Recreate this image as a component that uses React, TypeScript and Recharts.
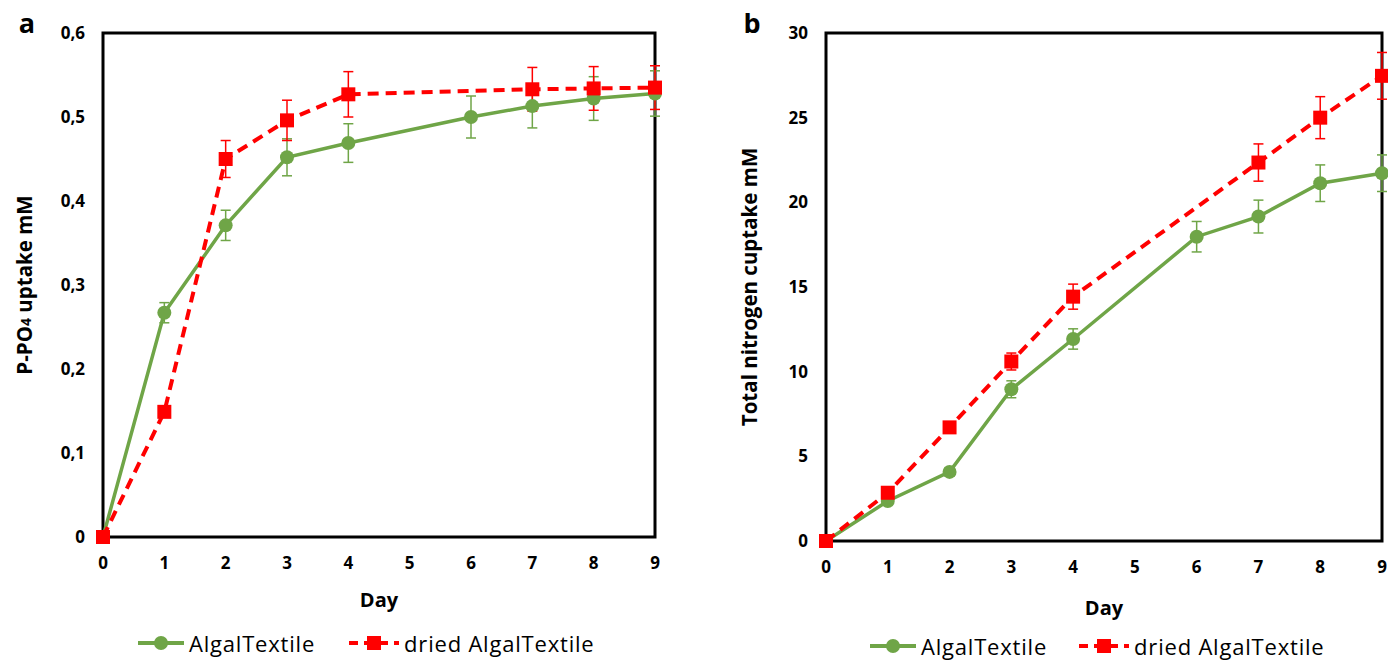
import { LineChart, Line, XAxis, YAxis, ErrorBar, ReferenceArea, Legend } from 'recharts';

// days sampled for each series (no dried sample on day 6, no sample at day 5)
const algalDays = [0, 1, 2, 3, 4, 6, 7, 8, 9];
const driedDays = [0, 1, 2, 3, 4, 7, 8, 9];
const dayTicks = [0, 1, 2, 3, 4, 5, 6, 7, 8, 9];

// panel a: P-PO4 uptake (mM)
const pAlgal = [0, 0.267, 0.371, 0.452, 0.469, 0.5, 0.513, 0.522, 0.528];
const pAlgalErr = [0, 0.012, 0.018, 0.022, 0.023, 0.025, 0.026, 0.026, 0.027];
const pDried = [0, 0.149, 0.45, 0.496, 0.527, 0.533, 0.534, 0.535];
const pDriedErr = [0, 0, 0.022, 0.024, 0.027, 0.026, 0.026, 0.026];
const pTicks = [0, 0.1, 0.2, 0.3, 0.4, 0.5, 0.6];

// panel b: total nitrogen uptake (mM)
const nAlgal = [0, 2.36, 4.08, 8.96, 11.93, 17.97, 19.16, 21.13, 21.72];
const nAlgalErr = [0, 0.2, 0.25, 0.5, 0.6, 0.9, 0.97, 1.08, 1.08];
const nDried = [0, 2.85, 6.71, 10.6, 14.43, 22.35, 25.0, 27.47];
const nDriedErr = [0, 0.2, 0.25, 0.5, 0.74, 1.1, 1.24, 1.38];
const nTicks = [0, 5, 10, 15, 20, 25, 30];

const GREEN = '#6fa547';
const RED = '#ff0000';
const FONT = '"Open Sans", "Noto Sans", sans-serif';

const toRows = (days: number[], vals: number[], errs: number[]) =>
  days.map((d, i) => ({ day: d, value: vals[i], err: errs[i] }));

const tickStyle = { fontSize: 17, fontWeight: 700, fill: '#000', fontFamily: FONT };

function GreenDot(props: any) {
  const { cx, cy } = props;
  if (cx == null || cy == null) return null;
  return <circle cx={cx} cy={cy} r={7} fill={GREEN} />;
}

function RedDot(props: any) {
  const { cx, cy } = props;
  if (cx == null || cy == null) return null;
  return <rect x={cx - 7} y={cy - 7} width={14} height={14} fill={RED} />;
}

function LegendRow({ start, gap }: { start: number; gap: number }) {
  return (
    <div
      style={{
        display: 'flex',
        alignItems: 'center',
        paddingLeft: start,
        fontFamily: FONT,
        fontSize: 22,
        letterSpacing: 0.8,
        color: '#000',
        whiteSpace: 'nowrap',
      }}
    >
      <svg width={46} height={20}>
        <line x1={0} y1={10} x2={46} y2={10} stroke={GREEN} strokeWidth={4} />
        <circle cx={23} cy={10} r={7} fill={GREEN} />
      </svg>
      <span style={{ marginLeft: 5 }}>AlgalTextile</span>
      <svg width={50} height={20} style={{ marginLeft: gap }}>
        <line x1={0} y1={10} x2={50} y2={10} stroke={RED} strokeWidth={4} strokeDasharray="9 6" />
        <rect x={18} y={3} width={14} height={14} fill={RED} />
      </svg>
      <span style={{ marginLeft: 5 }}>dried AlgalTextile</span>
    </div>
  );
}

interface PanelProps {
  letter: string;
  yTitle: React.ReactNode;
  algal: { day: number; value: number; err: number }[];
  dried: { day: number; value: number; err: number }[];
  yTicks: number[];
  yFormat: (v: number) => string;
  width: number;
  margin: { top: number; right: number; left: number; bottom: number };
  titleX: number;
  dayY: number;
  legendTop: number;
  legendStart: number;
  gap: number;
}

function Panel(p: PanelProps) {
  const yMax = p.yTicks[p.yTicks.length - 1];
  return (
    <LineChart width={p.width} height={661} margin={p.margin}>
      <ReferenceArea x1={0} x2={9} y1={0} y2={yMax} fill="none" stroke="#000" strokeWidth={3} ifOverflow="visible" />
      <XAxis
        type="number"
        dataKey="day"
        domain={[0, 9]}
        ticks={dayTicks}
        axisLine={false}
        tickLine={false}
        tickMargin={14}
        tick={tickStyle}
        height={40}
        label={{
          content: ({ viewBox }: any) => (
            <text x={viewBox.x + viewBox.width / 2} y={p.dayY} textAnchor="middle" style={{ fontFamily: FONT, fontSize: 20, fontWeight: 700 }}>
              Day
            </text>
          ),
        }}
      />
      <YAxis
        type="number"
        domain={[0, yMax]}
        ticks={p.yTicks}
        tickFormatter={p.yFormat}
        axisLine={false}
        tickLine={false}
        tickMargin={12}
        tick={tickStyle}
        width={60}
        label={{
          content: ({ viewBox }: any) => (
            <g>
              <text x={p.titleX} y={26} textAnchor="middle" dominantBaseline="middle" style={{ fontFamily: FONT, fontSize: 27, fontWeight: 700 }}>
                {p.letter}
              </text>
              <text
                x={p.titleX}
                y={viewBox.y + viewBox.height / 2}
                textAnchor="middle"
                dominantBaseline="middle"
                transform={`rotate(-90 ${p.titleX} ${viewBox.y + viewBox.height / 2})`}
                style={{ fontFamily: FONT, fontSize: 20.5, fontWeight: 700 }}
              >
                {p.yTitle}
              </text>
            </g>
          ),
        }}
      />
      <Line data={p.algal} dataKey="value" stroke={GREEN} strokeWidth={3.5} dot={<GreenDot />} activeDot={false} isAnimationActive={false}>
        <ErrorBar dataKey="err" width={5} stroke={GREEN} strokeWidth={1.5} direction="y" />
      </Line>
      <Line data={p.dried} dataKey="value" stroke={RED} strokeWidth={4} strokeDasharray="11 7" dot={<RedDot />} activeDot={false} isAnimationActive={false}>
        <ErrorBar dataKey="err" width={5} stroke={RED} strokeWidth={1.5} direction="y" />
      </Line>
      <Legend
        verticalAlign="middle"
        align="center"
        layout="horizontal"
        wrapperStyle={{ top: p.legendTop, left: 0, width: p.width }}
        content={() => <LegendRow start={p.legendStart} gap={p.gap} />}
      />
    </LineChart>
  );
}

export default function App() {
  const commaFmt = (v: number) => (v === 0 ? '0' : v.toFixed(1).replace('.', ','));
  return (
    <div style={{ position: 'absolute', left: 0, top: 0, width: 1388, height: 661, background: '#fff' }}>
      <div style={{ position: 'absolute', left: 0, top: 0 }}>
        <Panel
          letter="a"
          yTitle={
            <>
              P-PO<tspan fontSize={14}>4</tspan> uptake mM
            </>
          }
          algal={toRows(algalDays, pAlgal, pAlgalErr)}
          dried={toRows(driedDays, pDried, pDriedErr)}
          yTicks={pTicks}
          yFormat={commaFmt}
          width={720}
          margin={{ top: 33, right: 65, left: 43, bottom: 84 }}
          titleX={27}
          dayY={607}
          legendTop={628}
          legendStart={138}
          gap={34}
        />
      </div>
      <div style={{ position: 'absolute', left: 700, top: 0 }}>
        <Panel
          letter="b"
          yTitle="Total nitrogen cuptake mM"
          algal={toRows(algalDays, nAlgal, nAlgalErr)}
          dried={toRows(driedDays, nDried, nDriedErr)}
          yTicks={nTicks}
          yFormat={(v) => String(v)}
          width={688}
          margin={{ top: 33, right: 6, left: 66, bottom: 80 }}
          titleX={52}
          dayY={615}
          legendTop={631}
          legendStart={170}
          gap={32}
        />
      </div>
    </div>
  );
}
